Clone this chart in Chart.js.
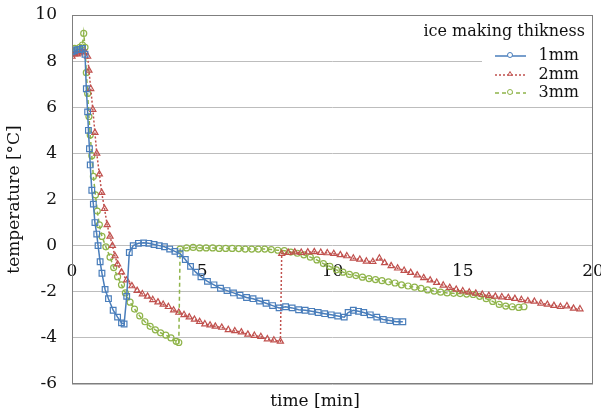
<!DOCTYPE html>
<html>
<head>
<meta charset="utf-8">
<script src="https://cdn.jsdelivr.net/npm/chart.js@4.4.1/dist/chart.umd.min.js"></script>
<style>
  html, body { margin: 0; padding: 0; background: #fff; }
  #wrap { width: 601px; height: 418px; }
</style>
</head>
<body>
<div id="wrap"><canvas id="iceChart" width="601" height="418"></canvas></div>
<script>
// time [min] and temperature [°C]
const t1mm = [0, 0.1, 0.2, 0.3, 0.4, 0.5, 0.55, 0.6, 0.63, 0.67, 0.7, 0.76, 0.82, 0.88, 0.95, 1.0, 1.08, 1.15, 1.27, 1.4, 1.58, 1.75, 1.9, 2.0, 2.1, 2.2, 2.35, 2.55, 2.75, 2.95, 3.15, 3.35, 3.55, 3.75, 3.95, 4.15, 4.35, 4.55, 4.75, 4.95, 5.2, 5.45, 5.7, 5.95, 6.2, 6.45, 6.7, 6.95, 7.2, 7.45, 7.7, 7.95, 8.2, 8.45, 8.7, 8.95, 9.2, 9.45, 9.7, 9.95, 10.2, 10.45, 10.6, 10.8, 11.0, 11.2, 11.45, 11.7, 11.95, 12.2, 12.45, 12.7];
const v1mm = [8.4, 8.45, 8.5, 8.5, 8.55, 8.3, 6.8, 5.8, 5.0, 4.2, 3.5, 2.4, 1.8, 1.0, 0.5, 0.0, -0.7, -1.2, -1.9, -2.3, -2.8, -3.1, -3.35, -3.4, -2.2, -0.3, 0.0, 0.1, 0.12, 0.1, 0.05, 0.0, -0.05, -0.15, -0.25, -0.35, -0.6, -0.9, -1.15, -1.35, -1.55, -1.7, -1.85, -1.95, -2.05, -2.15, -2.25, -2.3, -2.4, -2.5, -2.6, -2.7, -2.65, -2.7, -2.78, -2.8, -2.85, -2.9, -2.95, -3.0, -3.05, -3.1, -2.9, -2.8, -2.85, -2.9, -3.0, -3.1, -3.2, -3.25, -3.3, -3.3];

const t2mm = [0, 0.1, 0.2, 0.3, 0.4, 0.5, 0.6, 0.65, 0.72, 0.8, 0.88, 0.95, 1.05, 1.14, 1.25, 1.35, 1.46, 1.55, 1.65, 1.75, 1.9, 2.1, 2.3, 2.5, 2.7, 2.9, 3.1, 3.3, 3.5, 3.7, 3.9, 4.1, 4.3, 4.5, 4.7, 4.9, 5.1, 5.3, 5.5, 5.75, 6.0, 6.25, 6.5, 6.75, 7.0, 7.25, 7.5, 7.75, 8.0, 8.05, 8.3, 8.55, 8.8, 9.05, 9.3, 9.55, 9.8, 10.05, 10.3, 10.55, 10.8, 11.05, 11.3, 11.55, 11.8, 12.0, 12.25, 12.5, 12.75, 13.0, 13.25, 13.5, 13.75, 14.0, 14.25, 14.5, 14.75, 15.0, 15.25, 15.5, 15.75, 16.0, 16.25, 16.5, 16.75, 17.0, 17.25, 17.5, 17.75, 18.0, 18.25, 18.5, 18.75, 19.0, 19.25, 19.5];
const v2mm = [8.2, 8.3, 8.3, 8.35, 8.4, 8.4, 8.2, 7.6, 6.8, 5.9, 4.9, 4.0, 3.1, 2.3, 1.6, 0.9, 0.4, 0.0, -0.45, -0.8, -1.15, -1.5, -1.75, -1.95, -2.1, -2.2, -2.35, -2.45, -2.55, -2.65, -2.8, -2.9, -3.0, -3.1, -3.2, -3.3, -3.4, -3.45, -3.5, -3.55, -3.65, -3.7, -3.75, -3.85, -3.9, -3.95, -4.05, -4.1, -4.15, -0.35, -0.3, -0.28, -0.3, -0.28, -0.27, -0.3, -0.32, -0.35, -0.4, -0.45, -0.55, -0.6, -0.68, -0.7, -0.55, -0.75, -0.88, -0.98, -1.08, -1.17, -1.28, -1.4, -1.5, -1.6, -1.72, -1.82, -1.9, -1.97, -2.02, -2.07, -2.12, -2.17, -2.2, -2.23, -2.26, -2.3, -2.35, -2.4, -2.42, -2.5, -2.55, -2.6, -2.65, -2.62, -2.72, -2.75];

const t3mm = [0, 0.1, 0.2, 0.3, 0.4, 0.45, 0.5, 0.55, 0.6, 0.65, 0.7, 0.76, 0.82, 0.9, 0.97, 1.05, 1.15, 1.3, 1.46, 1.6, 1.75, 1.9, 2.05, 2.23, 2.4, 2.6, 2.8, 3.0, 3.2, 3.4, 3.6, 3.8, 4.0, 4.1, 4.15, 4.4, 4.65, 4.9, 5.15, 5.4, 5.65, 5.9, 6.15, 6.4, 6.65, 6.9, 7.15, 7.4, 7.65, 7.9, 8.15, 8.4, 8.65, 8.9, 9.15, 9.4, 9.65, 9.9, 10.15, 10.4, 10.65, 10.9, 11.15, 11.4, 11.65, 11.9, 12.15, 12.4, 12.65, 12.9, 13.15, 13.4, 13.65, 13.9, 14.15, 14.4, 14.65, 14.9, 15.15, 15.4, 15.65, 15.9, 16.15, 16.4, 16.65, 16.9, 17.15, 17.35];
const v3mm = [8.5, 8.55, 8.5, 8.6, 8.7, 9.2, 8.6, 7.5, 6.6, 5.6, 4.8, 3.9, 3.0, 2.2, 1.5, 0.9, 0.4, -0.05, -0.5, -0.95, -1.35, -1.7, -2.05, -2.45, -2.75, -3.05, -3.3, -3.5, -3.65, -3.78, -3.88, -4.0, -4.15, -4.2, -0.15, -0.1, -0.08, -0.1, -0.1, -0.1, -0.12, -0.12, -0.12, -0.13, -0.15, -0.15, -0.15, -0.15, -0.17, -0.2, -0.22, -0.28, -0.33, -0.4, -0.5, -0.62, -0.78, -0.9, -1.05, -1.15, -1.25, -1.3, -1.37, -1.43, -1.47, -1.52, -1.57, -1.62, -1.7, -1.75, -1.8, -1.85, -1.92, -1.97, -2.02, -2.05, -2.07, -2.08, -2.1, -2.12, -2.2, -2.3, -2.42, -2.55, -2.62, -2.65, -2.68, -2.65];

const seriesLabels = ['1mm', '2mm', '3mm'];
const xTicks = [0, 5, 10, 15, 20];
const yTicks = [-6, -4, -2, 0, 2, 4, 6, 8, 10];

const BLUE = '#4a7ebb';
const RED = '#c0504d';
const GREEN = '#8fb44a';
const SERIF = '"DejaVu Serif", "Liberation Serif", serif';

function toPoints(ts, vs) {
    return ts.map((t, i) => ({ x: t, y: vs[i] }));
}

// frame, x title and legend drawn by hand, Excel style
const framePlugin = {
    id: 'frame',
    afterDatasetsDraw(chart) {
        const { ctx, chartArea: a } = chart;
        ctx.save();

        // legend box
        const lx = 482, ly = a.top + 1;
        ctx.fillStyle = '#fff';
        ctx.fillRect(lx, ly, a.right - lx - 1, 85);
        ctx.font = '16px ' + SERIF;
        ctx.fillStyle = '#111';
        ctx.textAlign = 'right';
        ctx.textBaseline = 'middle';
        ctx.fillText('ice making thikness', a.right - 8, 32);

        const rows = [
            { label: seriesLabels[0], color: BLUE, dash: [], style: 'circle', y: 56 },
            { label: seriesLabels[1], color: RED, dash: [2, 2], style: 'triangle', y: 75 },
            { label: seriesLabels[2], color: GREEN, dash: [4, 3], style: 'circle', y: 93 }
        ];
        rows.forEach(r => {
            ctx.strokeStyle = r.color;
            ctx.lineWidth = 1.5;
            ctx.setLineDash(r.dash);
            ctx.beginPath();
            ctx.moveTo(495, r.y);
            ctx.lineTo(526, r.y);
            ctx.stroke();
            ctx.setLineDash([]);
            ctx.lineWidth = 1;
            ctx.fillStyle = '#fff';
            Chart.helpers.drawPoint(ctx, { pointStyle: r.style, radius: 2.5, borderWidth: 1 }, 510, r.y - 1);
            ctx.fillStyle = '#111';
            ctx.fillText(r.label, a.right - 14, r.y);
        });

        // plot border
        ctx.strokeStyle = '#7f7f7f';
        ctx.lineWidth = 1;
        ctx.strokeRect(a.left + 0.5, a.top + 0.5, a.right - a.left - 1, a.bottom - a.top - 1);

        // x axis title
        ctx.font = '17px ' + SERIF;
        ctx.fillStyle = '#111';
        ctx.textAlign = 'center';
        ctx.fillText('time [min]', 315, 402);
        ctx.restore();
    }
};

function createChart() {
    const ctx = document.getElementById('iceChart').getContext('2d');

    const common = {
        borderWidth: 1.5,
        pointRadius: 3,
        pointBorderWidth: 1.2,
        pointBackgroundColor: 'rgba(255,255,255,0)',
        showLine: true,
        tension: 0
    };

    new Chart(ctx, {
        type: 'scatter',
        plugins: [framePlugin],
        data: {
            datasets: [
                Object.assign({}, common, {
                    label: seriesLabels[0],
                    data: toPoints(t1mm, v1mm),
                    borderColor: BLUE,
                    pointBorderColor: BLUE,
                    pointStyle: 'rect',
                    pointRadius: 4
                }),
                Object.assign({}, common, {
                    label: seriesLabels[1],
                    data: toPoints(t2mm, v2mm),
                    borderColor: RED,
                    pointBorderColor: RED,
                    pointStyle: 'triangle',
                    pointRadius: 3.5,
                    borderDash: [2, 2]
                }),
                Object.assign({}, common, {
                    label: seriesLabels[2],
                    data: toPoints(t3mm, v3mm),
                    borderColor: GREEN,
                    pointBorderColor: GREEN,
                    pointStyle: 'circle',
                    borderDash: [4, 3]
                })
            ]
        },
        options: {
            responsive: false,
            animation: false,
            layout: { padding: { top: 15, right: 8, bottom: 34, left: 0 } },
            plugins: {
                legend: { display: false },
                tooltip: { enabled: false }
            },
            scales: {
                x: {
                    type: 'linear',
                    min: 0,
                    max: 20,
                    position: { y: 0 },
                    afterBuildTicks: scale => { scale.ticks = xTicks.map(v => ({ value: v })); },
                    afterFit: scale => { scale.paddingLeft = 0; scale.paddingRight = 0; },
                    ticks: {
                        padding: 8,
                        color: '#111',
                        font: { family: SERIF, size: 17 }
                    },
                    grid: { display: false },
                    border: { display: false }
                },
                y: {
                    min: -6,
                    max: 10,
                    afterBuildTicks: scale => { scale.ticks = yTicks.map(v => ({ value: v })); },
                    afterFit: scale => { scale.width = 72; scale.paddingTop = 0; scale.paddingBottom = 0; },
                    title: {
                        display: true,
                        text: 'temperature [°C]',
                        color: '#111',
                        font: { family: SERIF, size: 17 },
                        padding: { top: 4, bottom: 0 }
                    },
                    ticks: {
                        padding: 15,
                        color: '#111',
                        font: { family: SERIF, size: 17 }
                    },
                    grid: { color: '#bdbdbd', drawTicks: false },
                    border: { display: false }
                }
            }
        }
    });
}

createChart();
</script>
</body>
</html>
